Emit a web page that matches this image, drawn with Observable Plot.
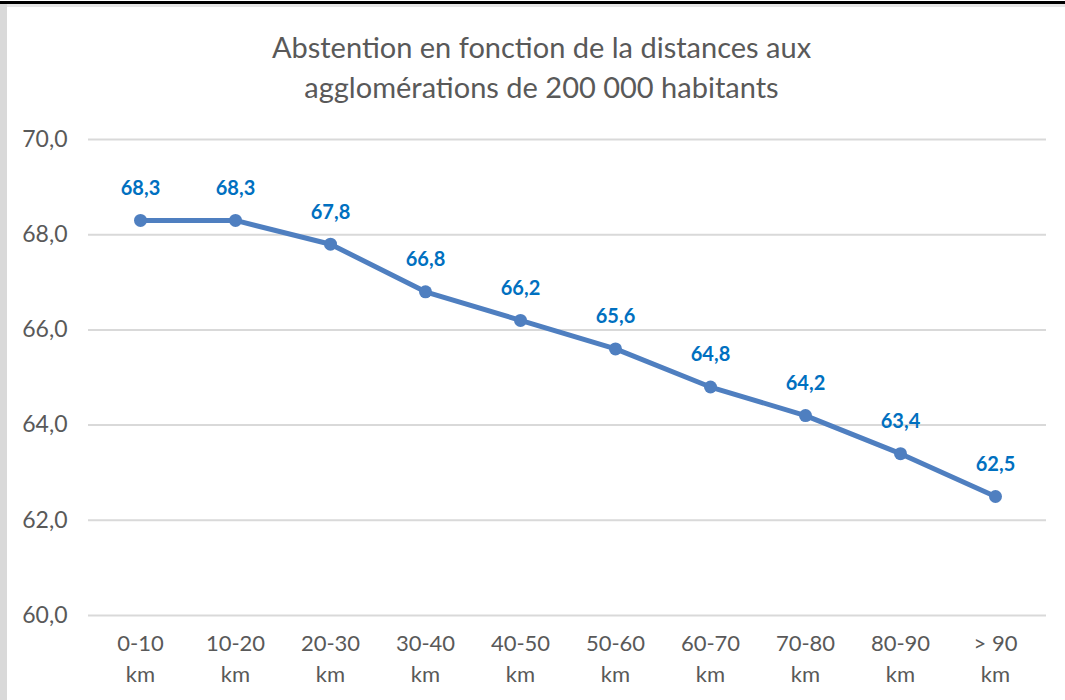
<!DOCTYPE html>
<html>
<head>
<meta charset="utf-8">
<script src="https://cdn.jsdelivr.net/npm/d3@7"></script>
<script src="https://cdn.jsdelivr.net/npm/@observablehq/plot@0.6"></script>
<style>
  html, body { margin: 0; padding: 0; background: #fff; width: 1065px; height: 700px; overflow: hidden; }
  #wrap { position: relative; width: 1065px; height: 700px; font-family: Lato, "Open Sans", sans-serif; }
  #topline { position: absolute; left: 0; top: 1px; width: 1065px; height: 3px; background: #000; }
  #topgray { position: absolute; left: 0; top: 4px; width: 1065px; height: 3px; background: #e6e6e6; }
  #leftbar { position: absolute; left: 0; top: 4px; width: 7px; height: 696px; background: #d9d9d9; }
  #title { position: absolute; left: 0; top: 27px; width: 1083px; text-align: center; color: #595959; font-size: 29px; line-height: 40px; }
  #chart { position: absolute; left: 0; top: 110px; }
</style>
</head>
<body>
<div id="wrap">
  <div id="topline"></div>
  <div id="topgray"></div>
  <div id="leftbar"></div>
  <div id="title">Abstention en fonction de la distances aux<br>agglomérations de 200 000 habitants</div>
  <div id="chart"></div>
</div>
<script>
const categories = ["0-10\nkm", "10-20\nkm", "20-30\nkm", "30-40\nkm", "40-50\nkm", "50-60\nkm", "60-70\nkm", "70-80\nkm", "80-90\nkm", "> 90\nkm"];
const values = [68.3, 68.3, 67.8, 66.8, 66.2, 65.6, 64.8, 64.2, 63.4, 62.5];
const yTicks = [60, 62, 64, 66, 68, 70];

const data = categories.map((c, i) => ({cat: c, value: values[i]}));
const fmt = d => d.toFixed(1).replace(".", ",");

const chart = Plot.plot({
  width: 1065,
  height: 590,
  marginLeft: 88,
  marginRight: 19,
  marginTop: 29,
  marginBottom: 85,
  style: {fontFamily: "Lato, 'Open Sans', sans-serif", background: "transparent"},
  x: {type: "point", domain: categories, padding: 0.5, label: null},
  y: {domain: [60, 70], label: null},
  marks: [
    Plot.ruleY(yTicks, {stroke: "#d9d9d9", strokeWidth: 2}),
    Plot.axisY(yTicks, {tickSize: 0, tickPadding: 21, tickFormat: fmt, fontSize: 23, fill: "#595959", label: null}),
    Plot.axisX({tickSize: 0, tickPadding: 14, fontSize: 22, fill: "#595959", lineHeight: 1.4, label: null}),
    Plot.line(data, {x: "cat", y: "value", stroke: "#4f7fc0", strokeWidth: 5, strokeLinejoin: "round"}),
    Plot.dot(data, {x: "cat", y: "value", r: 6.5, fill: "#4f7fc0", stroke: "none"}),
    Plot.text(data, {x: "cat", y: "value", text: d => fmt(d.value), dy: -32, fill: "#0070c0", fontWeight: "bold", fontSize: 20})
  ]
});
document.getElementById("chart").appendChild(chart);
</script>
</body>
</html>
